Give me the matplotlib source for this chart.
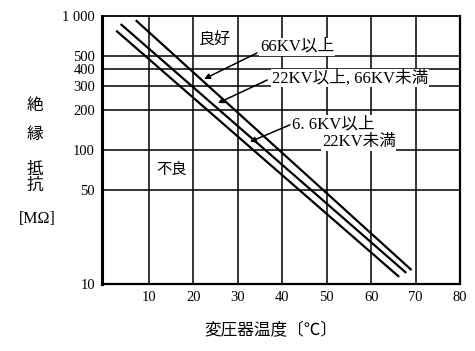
import matplotlib
matplotlib.use("Agg")
import matplotlib.pyplot as plt
import numpy as np

FAM = ['Liberation Serif', 'Noto Sans CJK JP', 'DejaVu Sans']
plt.rcParams['font.family'] = FAM

# Data (straight lines on the log scale between end points)
t_66 = [7.0, 69.1]
r_66 = [930, 12.7]
t_22 = [3.6, 67.9]
r_22 = [871, 12.1]
t_66b = [2.6, 66.3]
r_66b = [777, 11.3]

xticks = [10, 20, 30, 40, 50, 60, 70, 80]
yticks = [10, 50, 100, 200, 300, 400, 500, 1000]
ylabels = ['10', '50', '100', '200', '300', '400', '500', '1 000']

fig = plt.figure(figsize=(4.75, 3.51), dpi=100)
W, H = 475, 351
ax = fig.add_axes([102 / W, 1 - 284 / H, 358 / W, 268 / H])
ax.set_yscale('log')
ax.set_xlim(-0.6, 80)
ax.set_ylim(10, 1000)

ax.set_xticks(xticks)
ax.set_xticklabels([str(v) for v in xticks])
ax.set_yticks(yticks)
ax.set_yticklabels(ylabels)
ax.yaxis.set_minor_locator(matplotlib.ticker.NullLocator())
ax.xaxis.set_minor_locator(matplotlib.ticker.NullLocator())
ax.tick_params(axis='both', length=0, labelsize=10.5)
ax.tick_params(axis='x', pad=5)
ax.tick_params(axis='y', pad=5)
for lab in ax.get_xticklabels() + ax.get_yticklabels():
    lab.set_family(FAM)

for v in [50, 100, 200, 300, 400, 500]:
    ax.axhline(v, color='black', lw=1.1, zorder=1)
for v in [10, 20, 30, 40, 50, 60, 70]:
    ax.axvline(v, color='black', lw=1.1, zorder=1)

ax.spines['left'].set_linewidth(2.2)
ax.spines['bottom'].set_linewidth(1.6)
ax.spines['right'].set_linewidth(1.6)
ax.spines['top'].set_linewidth(1.3)

for t, r in [(t_66, r_66), (t_22, r_22), (t_66b, r_66b)]:
    ax.plot(t, r, color='black', lw=1.6, zorder=3, solid_capstyle='butt')

bbox = dict(facecolor='white', edgecolor='none', pad=0.5)
ax.text(24.9, 650, '良好', fontsize=11.5, ha='center', va='center', zorder=4)
ax.text(15.0, 71, '不良', fontsize=11, ha='center', va='center', zorder=4)

ap = dict(arrowstyle='-|>', color='black', lw=1.1, mutation_scale=8, shrinkA=0, shrinkB=0)
ax.text(35.0, 588, '66KV以上', fontsize=12, ha='left', va='center', bbox=bbox, zorder=4)
ax.annotate('', xy=(22.4, 339), xytext=(34.3, 530), arrowprops=ap, zorder=4)

ax.text(37.7, 344, '22KV以上, 66KV未満', fontsize=12, ha='left', va='center', bbox=bbox, zorder=4)
ax.annotate('', xy=(25.5, 224), xytext=(36.6, 333), arrowprops=ap, zorder=4)

ax.text(42.2, 156, '6. 6KV以上', fontsize=12, ha='left', va='center', bbox=bbox, zorder=4)
ax.text(48.9, 115, '22KV未満', fontsize=12, ha='left', va='center', bbox=bbox, zorder=4)
ax.annotate('', xy=(32.7, 115), xytext=(41.7, 154), arrowprops=ap, zorder=4)

# y axis title (stacked characters)
for ch, py in [('絶', 106), ('縁', 135), ('抵', 170), ('抗', 186)]:
    fig.text(35 / W, 1 - py / H, ch, fontsize=12, ha='center', va='center')
fig.text(37 / W, 1 - 219 / H, '[MΩ]', fontsize=11.5, ha='center', va='center')

fig.text(271 / W, 1 - 331 / H, '変圧器温度〔℃〕', fontsize=12, ha='center', va='center')

fig.savefig('out.png', dpi=100, facecolor='white')
